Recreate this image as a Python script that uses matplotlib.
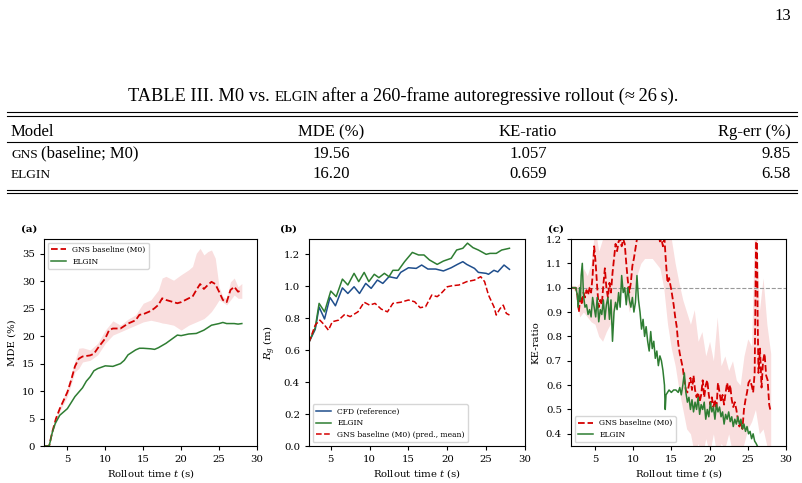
import numpy as np
import matplotlib
matplotlib.use("Agg")
import matplotlib.pyplot as plt
from matplotlib.lines import Line2D

# ---- table values ----
table_cols = ["Model", "MDE (%)", "KE-ratio", "Rg-err (%)"]
table_rows = [["GNS", "(baseline; M0)"], ["ELGIN", ""]]
mde_vals = ["19.56", "16.20"]
ke_vals = ["1.057", "0.659"]
rg_vals = ["9.85", "6.58"]

# ---- (a) MDE ----
a_gns_t = [2.0, 2.6, 3.0, 3.5, 4.0, 4.5, 5.0, 5.5, 6.0, 6.5, 7.0, 8.0, 8.5, 9.0, 10.0, 10.5, 11.0,
           12.0, 13.0, 14.0, 14.5, 15.0, 16.0, 16.5, 17.0, 17.5, 18.0, 19.0, 19.5, 20.0, 21.0, 21.5,
           22.0, 22.5, 23.0, 23.5, 24.0, 24.5, 25.0, 25.5, 26.0, 26.5, 27.0, 27.5, 28.0]
a_gns = [0, 0, 2.5, 5.0, 6.8, 8.3, 9.8, 12.0, 14.5, 15.9, 16.3, 16.5, 16.8, 17.8, 19.6, 21.1, 21.4,
         21.4, 22.3, 22.9, 23.9, 24.0, 24.6, 25.1, 25.7, 26.9, 26.6, 26.2, 26.0, 26.2, 26.9, 27.2,
         28.4, 29.5, 28.6, 29.3, 29.9, 29.5, 28.1, 26.6, 26.2, 28.4, 29.0, 28.1, 28.4]
a_band_t = [2.0, 2.6, 3.0, 4.0, 5.0, 6.0, 6.5, 7.0, 8.0, 9.0, 10.0, 11.0, 12.0, 13.0, 14.0, 15.0, 16.0,
            17.0, 17.5, 18.0, 19.0, 20.0, 21.0, 21.5, 22.0, 22.5, 23.0, 23.5, 24.0, 24.5, 25.0,
            25.5, 26.0, 26.5, 27.0, 27.5, 28.0]
a_band_hi = [0, 0, 2.8, 7.3, 10.5, 15.5, 17.8, 17.9, 17.5, 18.7, 21.1, 22.8, 22.0, 23.1, 23.9, 26.0,
             26.6, 28.4, 30.6, 30.9, 30.2, 31.2, 32.1, 32.7, 35.1, 36.0, 34.8, 35.4, 35.7, 34.2,
             29.0, 27.2, 26.9, 29.9, 30.6, 29.0, 29.6]
a_band_lo = [0, 0, 2.2, 6.3, 9.0, 13.5, 14.1, 15.3, 15.6, 16.6, 18.7, 20.2, 20.8, 21.4, 22.0, 22.6,
             22.9, 22.6, 22.4, 22.3, 22.0, 21.1, 22.0, 22.3, 22.6, 22.9, 23.2, 23.8, 24.5, 25.5,
             26.6, 26.2, 25.7, 26.6, 27.5, 26.9, 26.9]
a_elg_t = [2.0, 2.6, 3.0, 3.4, 4.0, 4.5, 5.0, 5.5, 6.0, 7.0, 7.5, 8.0, 8.5, 9.0, 10.0, 11.0, 12.0,
           12.5, 13.0, 14.0, 14.5, 15.0, 16.0, 16.5, 17.0, 17.5, 18.0, 19.0, 19.5, 20.0, 21.0, 22.0,
           23.0, 24.0, 25.0, 25.5, 26.0, 27.0, 27.5, 28.0]
a_elg = [0, 0, 2.4, 4.1, 5.6, 6.2, 6.8, 7.9, 9.0, 10.6, 11.8, 12.6, 13.7, 14.1, 14.6, 14.5, 15.0,
         15.6, 16.6, 17.5, 17.8, 17.8, 17.7, 17.6, 17.9, 18.3, 18.7, 19.7, 20.2, 20.1, 20.4, 20.5,
         21.1, 22.0, 22.3, 22.5, 22.3, 22.3, 22.2, 22.3]

# ---- (b) Rg ----
b_cfd_t = [2.2, 3.0, 3.5, 4.2, 4.9, 5.6, 6.5, 7.2, 8.0, 8.7, 9.5, 10.2, 11.0, 11.7, 12.5, 13.5, 14.0,
           15.0, 16.0, 16.7, 17.5, 18.5, 19.5, 20.5, 21.3, 22.0, 22.5, 23.5, 24.0, 25.0, 25.3, 26.0,
           26.5, 27.3, 28.0]
b_cfd = [0.65, 0.73, 0.87, 0.795, 0.93, 0.878, 0.99, 0.955, 0.997, 0.955, 1.018, 0.987, 1.039, 1.018,
         1.06, 1.05, 1.087, 1.116, 1.112, 1.133, 1.108, 1.108, 1.096, 1.116, 1.137, 1.154, 1.137,
         1.112, 1.087, 1.081, 1.075, 1.10, 1.09, 1.133, 1.106]
b_elg_t = [2.2, 3.0, 3.5, 4.2, 5.0, 5.7, 6.5, 7.2, 8.0, 8.6, 9.3, 9.9, 10.6, 11.2, 11.9, 12.5, 13.0,
           13.7, 14.5, 15.5, 16.3, 17.0, 17.7, 18.7, 19.5, 20.5, 21.2, 22.0, 22.6, 23.3, 24.0, 25.0,
           25.5, 26.3, 27.0, 28.0]
b_elg = [0.65, 0.74, 0.893, 0.84, 0.97, 0.935, 1.045, 1.008, 1.081, 1.029, 1.087, 1.029, 1.075, 1.054,
         1.081, 1.06, 1.10, 1.10, 1.154, 1.212, 1.196, 1.196, 1.165, 1.137, 1.158, 1.175, 1.227,
         1.238, 1.27, 1.242, 1.227, 1.20, 1.206, 1.206, 1.227, 1.238]
b_gns_t = [2.2, 3.0, 3.6, 4.2, 4.7, 5.2, 6.0, 6.8, 7.5, 8.5, 9.3, 10.0, 10.7, 11.5, 12.3, 13.0, 14.0,
           15.0, 15.8, 16.5, 17.2, 18.0, 18.7, 19.2, 20.0, 20.7, 21.5, 22.5, 23.5, 24.3, 24.8, 25.3,
           26.0, 26.3, 26.8, 27.2, 27.6, 28.0]
b_gns = [0.65, 0.757, 0.788, 0.757, 0.725, 0.778, 0.788, 0.824, 0.81, 0.84, 0.90, 0.882, 0.893, 0.857,
         0.84, 0.893, 0.90, 0.914, 0.903, 0.866, 0.872, 0.945, 0.935, 0.955, 0.997, 1.004, 1.008,
         1.029, 1.039, 1.06, 1.029, 0.945, 0.872, 0.82, 0.861, 0.882, 0.83, 0.82]

# ---- (c) KE-ratio ----
c_gns_t = [2.0, 2.5, 2.7, 2.9, 3.1, 3.3, 3.5, 3.7, 3.9, 4.1, 4.3, 4.5, 4.7, 4.9, 5.1, 5.3, 5.5, 5.7,
           5.9, 6.1, 6.3, 6.5, 6.7, 6.9, 7.1, 7.3, 7.5, 7.7, 7.9, 8.1, 8.3, 8.5, 8.7, 8.9, 9.1, 9.3,
           9.5, 9.7, 9.9, 10.1, 10.3, 10.5, 10.8, 11.5, 12.5, 13.2, 13.5, 13.7, 13.9, 14.1, 14.3,
           14.5, 14.7, 15.0, 15.3, 15.5, 15.7, 15.9, 16.1, 16.3, 16.5, 16.7, 16.9, 17.1, 17.3, 17.5,
           17.7, 17.9, 18.1, 18.3, 18.5, 18.7, 18.9, 19.1, 19.3, 19.5, 19.7, 19.9, 20.1, 20.3, 20.5,
           20.7, 20.9, 21.1, 21.3, 21.5, 21.7, 21.9, 22.1, 22.3, 22.5, 22.7, 22.9, 23.1, 23.3, 23.5,
           23.7, 23.9, 24.1, 24.3, 24.5, 24.7, 24.9, 25.1, 25.3, 25.5, 25.7, 25.9, 26.0, 26.1, 26.2,
           26.3, 26.4, 26.6, 26.8, 27.0, 27.2, 27.4, 27.6, 27.8, 28.0]
c_gns = [1.00, 1.00, 0.97, 0.90, 0.97, 0.93, 0.98, 0.96, 0.99, 0.97, 1.00, 0.98, 1.05, 1.17, 1.10, 1.00,
         0.92, 0.95, 0.93, 1.01, 1.08, 1.00, 0.96, 1.02, 0.98, 1.06, 1.12, 1.18, 1.15, 1.19, 1.20,
         1.17, 1.20, 1.18, 1.10, 1.03, 0.98, 1.02, 1.09, 1.12, 1.16, 1.20, 1.25, 1.30, 1.28, 1.25,
         1.19, 1.20, 1.17, 1.20, 1.10, 1.02, 1.04, 0.99, 0.93, 0.88, 0.84, 0.77, 0.73, 0.70, 0.67,
         0.62, 0.58, 0.57, 0.60, 0.63, 0.58, 0.64, 0.58, 0.55, 0.57, 0.53, 0.56, 0.62, 0.55, 0.60,
         0.62, 0.56, 0.52, 0.55, 0.51, 0.54, 0.50, 0.61, 0.57, 0.53, 0.56, 0.52, 0.57, 0.61, 0.57,
         0.60, 0.54, 0.51, 0.53, 0.50, 0.46, 0.43, 0.45, 0.42, 0.50, 0.54, 0.57, 0.61, 0.62, 0.60,
         0.57, 0.65, 0.95, 1.25, 1.20, 0.85, 0.65, 0.75, 0.59, 0.70, 0.73, 0.64, 0.62, 0.52, 0.49]
c_band_t = [2.0, 2.5, 3.0, 3.5, 4.0, 4.5, 5.0, 5.5, 6.0, 6.5, 7.0, 7.5, 8.0, 8.5, 9.0, 9.5, 10.0, 10.5,
            11.0, 11.5, 12.0, 12.5, 13.0, 13.5, 14.0, 14.5, 15.0, 15.5, 16.0, 16.5, 17.0, 17.5, 18.0,
            18.5, 19.0, 19.5, 20.0, 20.5, 21.0, 21.5, 22.0, 22.5, 23.0, 23.5, 24.0, 24.5, 25.0, 25.5,
            26.0, 26.5, 27.0, 27.5, 28.0]
c_band_hi = [1.00, 1.00, 1.02, 1.08, 1.05, 1.10, 1.25, 1.15, 1.20, 1.25, 1.22, 1.30, 1.35, 1.35, 1.30,
             1.25, 1.30, 1.35, 1.40, 1.40, 1.40, 1.40, 1.40, 1.35, 1.35, 1.30, 1.20, 1.10, 1.02, 0.95,
             0.90, 0.85, 0.91, 0.78, 0.82, 0.72, 0.78, 0.70, 0.88, 0.68, 0.72, 0.66, 0.70, 0.62, 0.60,
             0.72, 0.79, 0.76, 1.40, 0.90, 1.04, 0.85, 0.73]
c_band_lo = [1.00, 0.98, 0.88, 0.90, 0.88, 0.86, 0.85, 0.80, 0.78, 0.82, 0.85, 0.90, 0.95, 1.00, 0.98,
             0.90, 0.95, 1.05, 1.10, 1.12, 1.12, 1.12, 1.10, 1.08, 1.00, 0.85, 0.75, 0.68, 0.58, 0.50,
             0.42, 0.40, 0.32, 0.36, 0.30, 0.38, 0.32, 0.40, 0.30, 0.36, 0.34, 0.40, 0.32, 0.30, 0.30,
             0.36, 0.42, 0.45, 0.50, 0.40, 0.42, 0.35, 0.32]
c_elg_t = [2.0, 2.5, 2.7, 2.8, 3.0, 3.1, 3.2, 3.35, 3.5, 3.7, 3.9, 4.1, 4.3, 4.5, 4.7, 4.9, 5.1, 5.3,
           5.5, 5.7, 5.9, 6.1, 6.3, 6.5, 6.7, 6.9, 7.1, 7.3, 7.5, 7.7, 7.9, 8.1, 8.3, 8.5, 8.7, 8.9,
           9.1, 9.3, 9.5, 9.7, 9.9, 10.1, 10.3, 10.5, 10.7, 10.9, 11.1, 11.3, 11.5, 11.7, 11.9, 12.1,
           12.3, 12.5, 12.7, 12.9, 13.1, 13.3, 13.5, 13.7, 13.9, 14.1, 14.2, 14.3, 14.5, 14.7, 15.0,
           15.3, 15.6, 15.9, 16.1, 16.3, 16.5, 16.7, 16.9, 17.1, 17.3, 17.5, 17.7, 17.9, 18.1, 18.3,
           18.5, 18.7, 18.9, 19.1, 19.3, 19.5, 19.7, 19.9, 20.1, 20.3, 20.5, 20.7, 20.9, 21.1, 21.3,
           21.5, 21.7, 21.9, 22.1, 22.3, 22.5, 22.7, 22.9, 23.1, 23.3, 23.5, 23.7, 23.9, 24.1, 24.3,
           24.5, 24.7, 24.9, 25.1, 25.3, 25.5, 25.7, 25.9, 26.1, 26.4]
c_elg = [1.00, 1.00, 0.97, 0.92, 1.00, 0.95, 1.05, 1.10, 0.97, 0.92, 0.93, 0.89, 0.91, 0.88, 0.96, 0.92,
         0.88, 0.96, 0.86, 0.91, 0.89, 0.95, 0.87, 0.93, 0.96, 0.87, 0.95, 0.78, 0.90, 0.94, 0.91,
         0.98, 0.92, 1.05, 0.98, 1.00, 0.93, 1.00, 0.95, 0.92, 0.96, 0.90, 0.94, 1.05, 0.95, 0.90,
         0.83, 0.87, 0.80, 0.84, 0.78, 0.74, 0.82, 0.75, 0.78, 0.71, 0.74, 0.68, 0.72, 0.70, 0.66,
         0.60, 0.50, 0.56, 0.57, 0.58, 0.57, 0.58, 0.58, 0.57, 0.59, 0.56, 0.60, 0.65, 0.57, 0.53,
         0.55, 0.50, 0.54, 0.49, 0.53, 0.50, 0.55, 0.48, 0.52, 0.50, 0.53, 0.46, 0.50, 0.47, 0.53,
         0.49, 0.51, 0.46, 0.52, 0.49, 0.51, 0.47, 0.49, 0.44, 0.48, 0.46, 0.49, 0.45, 0.47, 0.43,
         0.46, 0.44, 0.47, 0.44, 0.46, 0.42, 0.44, 0.41, 0.43, 0.40, 0.41, 0.38, 0.40, 0.37, 0.36,
         0.34]

RED = "#d40000"
GREEN = "#2e7d32"
BLUE = "#1f4e8c"

plt.rcParams["font.family"] = "DejaVu Serif"
plt.rcParams["mathtext.fontset"] = "dejavuserif"

W, H = 802, 483
fig = plt.figure(figsize=(W / 100, H / 100), dpi=100)
SERIF = ["Liberation Serif", "DejaVu Serif"]
r = fig.canvas.get_renderer()


def width(s, size):
    t = fig.text(0, 0, s, fontsize=size, family=SERIF)
    w = t.get_window_extent(r).width
    t.remove()
    return w


def put(runs, x, y, ha="left"):
    # runs of (text, size), a space between runs; x, y in pixels (y = baseline from top)
    ws = [width(s, sz) for s, sz in runs]
    gaps = [width("a a", sz) - width("aa", sz) for s, sz in runs]
    total = sum(ws) + sum(gaps[:-1])
    x0 = {"left": x, "center": x - total / 2, "right": x - total}[ha]
    for (s, sz), w, g in zip(runs, ws, gaps):
        fig.text(x0 / W, 1 - y / H, s, fontsize=sz, family=SERIF, va="baseline")
        x0 += w + g
    return total


def hrule(y, x0=7, x1=797, lw=0.8):
    fig.add_artist(Line2D([x0 / W, x1 / W], [1 - y / H, 1 - y / H], color="black", lw=lw,
                          transform=fig.transFigure))


BODY = 12
SC = 9.6
put([("13", BODY)], 791, 20, ha="right")

cap = [("TABLE III. M0 vs.", BODY), ("ELGIN", SC),
       ("after a 260-frame autoregressive rollout (\u2248\u200926\u2009s).", BODY)]
tw = sum(width(s, sz) for s, sz in cap)
k = 540 / tw
put([(s, sz * k) for s, sz in cap], 403, 101, ha="center")

hrule(112)
hrule(115.5)
put([(table_cols[0], BODY)], 11, 136)
put([(table_cols[1], BODY)], 331, 136, ha="center")
put([(table_cols[2], BODY)], 528, 136, ha="center")
put([(table_cols[3], BODY)], 791, 136, ha="right")
hrule(142)
for i, yb in enumerate([157.5, 178]):
    name = [(table_rows[i][0], SC)] + ([(table_rows[i][1], BODY)] if table_rows[i][1] else [])
    put(name, 11, yb)
    put([(mde_vals[i], BODY)], 331, yb, ha="center")
    put([(ke_vals[i], BODY)], 528, yb, ha="center")
    put([(rg_vals[i], BODY)], 791, yb, ha="right")
hrule(189.5)
hrule(193)


def axes_px(x0, x1, y0, y1):
    return fig.add_axes([x0 / W, 1 - y1 / H, (x1 - x0) / W, (y1 - y0) / H])


TS = 7.3
LS = 5.5
ax1 = axes_px(44, 257, 239, 446)
ax2 = axes_px(309, 525, 239, 446)
ax3 = axes_px(571, 786, 239, 446)

# (a)
ax1.fill_between(a_band_t, a_band_lo, a_band_hi, color=RED, alpha=0.13, lw=0)
ax1.plot(a_gns_t, a_gns, "--", color=RED, lw=1.3, label="GNS baseline (M0)")
ax1.plot(a_elg_t, a_elg, "-", color=GREEN, lw=1.1, label="ELGIN")
ax1.set_xlim(1.92, 30)
ax1.set_ylim(0, 37.7)
ax1.set_yticks([0, 5, 10, 15, 20, 25, 30, 35])
ax1.set_ylabel("MDE (%)", fontsize=TS)
ax1.legend(loc="upper left", fontsize=LS)

# (b)
ax2.plot(b_cfd_t, b_cfd, "-", color=BLUE, lw=1.1, label="CFD (reference)")
ax2.plot(b_elg_t, b_elg, "-", color=GREEN, lw=1.1, label="ELGIN")
ax2.plot(b_gns_t, b_gns, "--", color=RED, lw=1.1, label="GNS baseline (M0) (pred., mean)")
ax2.set_xlim(2.2, 30)
ax2.set_ylim(0, 1.296)
ax2.set_yticks([0.0, 0.2, 0.4, 0.6, 0.8, 1.0, 1.2])
ax2.set_ylabel("$R_g$ (m)", fontsize=TS)
ax2.legend(loc="lower left", fontsize=LS)

# (c)
ax3.fill_between(c_band_t, c_band_lo, c_band_hi, color=RED, alpha=0.13, lw=0)
ax3.axhline(1.0, color="#999999", ls="--", lw=0.8)
ax3.plot(c_gns_t, c_gns, "--", color=RED, lw=1.3, label="GNS baseline (M0)")
ax3.plot(c_elg_t, c_elg, "-", color=GREEN, lw=1.1, label="ELGIN")
ax3.set_xlim(1.87, 30)
ax3.set_ylim(0.35, 1.2)
ax3.set_yticks([0.4, 0.5, 0.6, 0.7, 0.8, 0.9, 1.0, 1.1, 1.2])
ax3.set_ylabel("KE-ratio", fontsize=TS)
ax3.legend(loc="lower left", fontsize=LS)

for ax, lab, lx in [(ax1, "(a)", 21), (ax2, "(b)", 280), (ax3, "(c)", 548)]:
    ax.set_xticks([5, 10, 15, 20, 25, 30])
    ax.set_xlabel("Rollout time $t$ (s)", fontsize=TS, labelpad=2)
    ax.tick_params(labelsize=TS, length=3, width=0.8)
    fig.text(lx / W, 1 - 232 / H, lab, fontsize=7.5, fontweight="bold", va="baseline")

fig.savefig("out.png", dpi=100)
